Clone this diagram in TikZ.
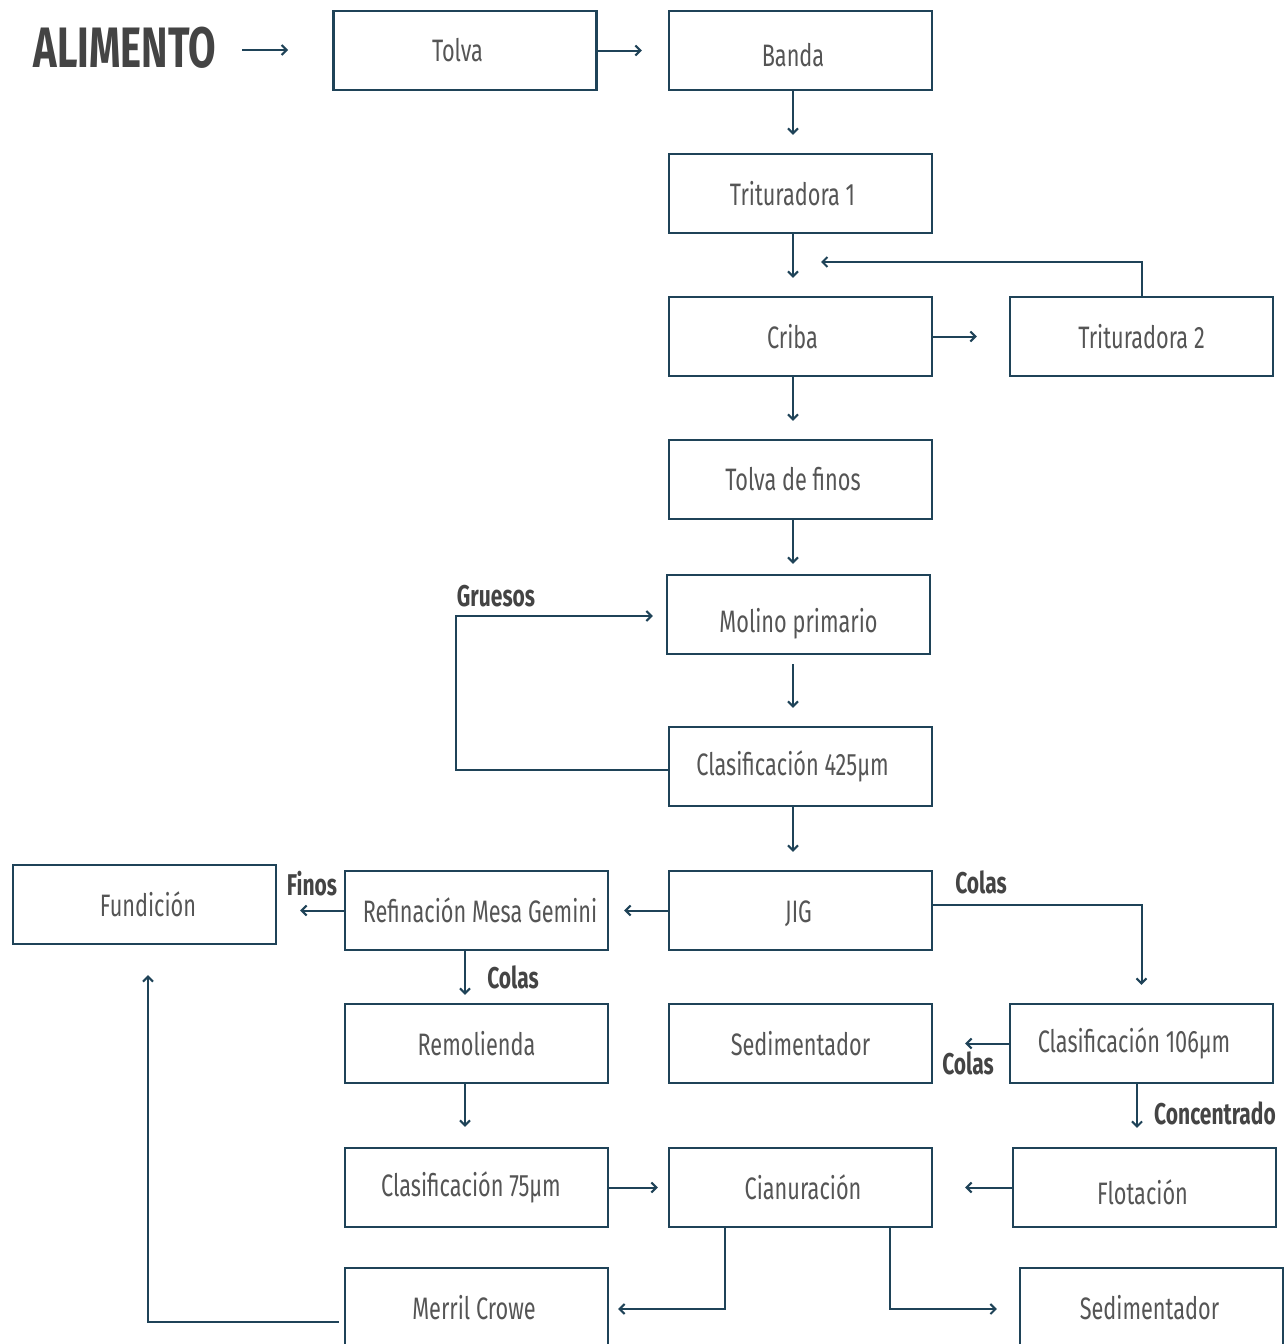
\documentclass[tikz,border=0pt]{standalone}
\usepackage{fontspec}
\setmainfont{Fira Sans}[FakeStretch=0.7]
\newfontfamily\lblfont{Fira Sans}[FakeStretch=0.7]
\usetikzlibrary{arrows.meta}
\definecolor{linec}{HTML}{1F4358}
\definecolor{txtc}{HTML}{555555}
\definecolor{lblc}{HTML}{444444}
% shift text inside a box by (dx,dy), dy positive = up
\newcommand\txo[3]{\raisebox{#2}[\height][\depth]{\makebox[0pt]{\hspace*{#1}\hspace*{#1}#3}}}
\tikzset{
  box/.style={draw=linec, line width=1.2pt, minimum width=131.5pt, minimum height=39.5pt,
    inner sep=0pt, text=txtc, font=\fontsize{15.5}{18}\selectfont},
  arr/.style={draw=linec, line width=1pt, -{Straight Barb[length=2.5pt,width=5pt,line width=1pt]}},
  lbl/.style={text=lblc, font=\lblfont\bfseries\fontsize{15}{18}\selectfont, inner sep=0pt},
}
\begin{document}
\begin{tikzpicture}[x=0.5pt,y=-0.5pt]
\clip (0,0) rectangle (1286,1344);
\fill[white] (0,0) rectangle (1286,1344);

\node[text=lblc, font=\lblfont\bfseries\fontsize{28.5}{30}\selectfont, inner sep=0pt] (alim) at (125,48) {ALIMENTO};
\coordinate (alimS) at (242,50);
\coordinate (alimE) at (288,50);

\node[box] (tolva) at (465,50.5) {\txo{-3.75pt}{0pt}{Tolva}};
\node[box] (banda) at (800.5,50.5) {\txo{-3.75pt}{-2.25pt}{Banda}};
\node[box] (trit1) at (800.5,193.5) {\txo{-4pt}{0pt}{Trituradora 1}};
\node[box] (criba) at (800.5,336.5) {\txo{-4pt}{0pt}{Criba}};
\node[box] (trit2) at (1141.5,336.5) {Trituradora 2};
\node[box] (finos) at (800.5,479.5) {\txo{-3.75pt}{0pt}{Tolva de finos}};
\node[box] (molino) at (798.5,614.5) {\txo{0pt}{-4.75pt}{Molino primario}};
\node[box] (clas425) at (800.5,766.5) {\txo{-4pt}{0pt}{Clasificación 425µm}};
\node[box] (jig) at (800.5,910.5) {\txo{-1pt}{-1.75pt}{JIG}};
\node[box] (refin) at (476.5,910.5) {\txo{1.75pt}{0pt}{Refinación Mesa Gemini}};
\node[box] (fund) at (144.5,904.5) {\txo{1.75pt}{0pt}{Fundición}};
\node[box] (remol) at (476.5,1043.5) {Remolienda};
\node[box] (sedim1) at (800.5,1043.5) {Sedimentador};
\node[box] (clas106) at (1141.5,1043.5) {\txo{-3.75pt}{0pt}{Clasificación 106µm}};
\node[box] (clas75) at (476.5,1187.5) {\txo{-2.75pt}{0pt}{Clasificación 75µm}};
\node[box] (cian) at (800.5,1187.5) {\txo{1.25pt}{0pt}{Cianuración}};
\node[box] (flot) at (1144.5,1187.5) {\txo{-1pt}{-2.25pt}{Flotación}};
\node[box] (merril) at (476.5,1307.5) {\txo{-1.25pt}{0pt}{Merril Crowe}};
\node[box] (sedim2) at (1151.5,1307.5) {\txo{-1pt}{0pt}{Sedimentador}};

% labels
\node[lbl] (lgru) at (496,596) {Gruesos};
\node[lbl] (lcol1) at (981,882) {Colas};
\node[lbl] (lfin) at (312,884) {Finos};
\node[lbl] (lcol2) at (513,977) {Colas};
\node[lbl] (lcol3) at (968,1063) {Colas};
\node[lbl] (lcon) at (1215,1113) {Concentrado};

% connectors
\draw[arr] (alimS) -- (alimE);
\draw[arr, shorten >=13pt] (tolva.east) -- (banda.west);
\draw[arr, shorten >=9pt] ([xshift=-3.75pt]banda.south) -- ([xshift=-3.75pt]trit1.north);
\draw[arr, shorten >=9pt] ([xshift=-3.75pt]trit1.south) -- ([xshift=-3.75pt]criba.north);
\coordinate (t2end) at (821,262);
\draw[arr] (trit2.north) |- (t2end);
\draw[arr, shorten >=16pt] (criba.east) -- (trit2.west);
\draw[arr, shorten >=9pt] ([xshift=-3.75pt]criba.south) -- ([xshift=-3.75pt]finos.north);
\draw[arr, shorten >=5pt] ([xshift=-3.75pt]finos.south) -- ([xshift=-2.75pt]molino.north);
\draw[arr, shorten <=4.5pt, shorten >=9pt] ([xshift=-2.75pt]molino.south) -- ([xshift=-3.75pt]clas425.north);
\draw[arr, shorten >=6.5pt] ([yshift=-1.75pt]clas425.west) -- ++(-212,0) |- ([yshift=-0.75pt]molino.west);
\draw[arr, shorten >=9pt] ([xshift=-3.75pt]clas425.south) -- ([xshift=-3.75pt]jig.north);
\draw[arr, shorten >=7.5pt] (jig.west) -- (refin.east);
\draw[arr, shorten >=9pt] ([yshift=2.75pt]jig.east) -| (clas106.north);
\draw[arr, shorten >=11.5pt] (refin.west) -- (refin.west -| fund.east);
\draw[arr, shorten >=4pt] ([xshift=-5.75pt]refin.south) -- ([xshift=-5.75pt]remol.north);
\draw[arr, shorten >=10pt] ([xshift=-5.75pt]remol.south) -- ([xshift=-5.75pt]clas75.north);
\draw[arr, shorten >=5pt] (clas75.east) -- (cian.west);
\draw[arr, shorten >=16pt] (flot.west) -- (flot.west -| cian.east);
\draw[arr, shorten >=16pt] (clas106.west) -- (sedim1.east);
\draw[arr, shorten >=9.5pt] ([xshift=-2.25pt]clas106.south) -- ([xshift=-2.25pt]clas106.south |- flot.north);
\draw[arr, shorten >=4.5pt] ([xshift=-37.75pt]cian.south) |- ([yshift=-0.75pt]merril.east);
\draw[arr, shorten >=11pt] ([xshift=44.75pt]cian.south) |- ([yshift=-0.75pt]sedim2.west);
\draw[arr, shorten <=2.5pt, shorten >=15pt] ([yshift=-7.25pt]merril.west) -| ([xshift=1.75pt]fund.south);
\end{tikzpicture}
\end{document}
